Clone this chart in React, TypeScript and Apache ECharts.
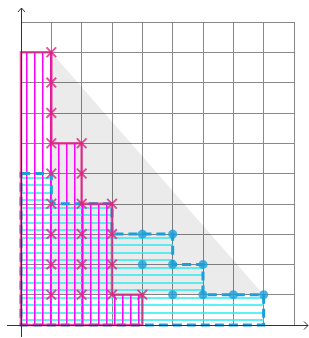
import React, { useEffect, useRef } from "react";
import * as echarts from "echarts";

// Region outlines (x, y)
const triangle: number[][] = [[1, 9], [8, 1], [1, 1]];
const magentaFront: number[][] = [[0, 9], [1, 9], [1, 6], [2, 6], [2, 4], [3, 4], [3, 1], [4, 1], [4, 0], [0, 0]];
const blueFront: number[][] = [[0, 5], [1, 5], [1, 4], [3, 4], [3, 3], [5, 3], [5, 2], [6, 2], [6, 1], [8, 1], [8, 0], [0, 0]];
// Points
const magentaPoints: number[][] = [
  [1, 9], [1, 8], [1, 7], [1, 6], [2, 6], [1, 5], [2, 5], [1, 4], [2, 4], [3, 4],
  [1, 3], [2, 3], [3, 3], [1, 2], [2, 2], [3, 2], [1, 1], [2, 1], [3, 1], [4, 1],
];
const bluePoints: number[][] = [[4, 3], [5, 3], [4, 2], [5, 2], [6, 2], [5, 1], [6, 1], [7, 1], [8, 1]];

const X_MAX = 9;
const Y_MAX = 10;

function makePattern(kind: "v" | "h") {
  const c = document.createElement("canvas");
  const ctx = c.getContext("2d")!;
  if (kind === "v") {
    c.width = 8; c.height = 8;
    ctx.fillStyle = "#ff00ff";
    ctx.fillRect(2, 0, 1.5, 8);
  } else {
    c.width = 4; c.height = 15;
    ctx.fillStyle = "rgba(40,235,240,0.75)";
    ctx.fillRect(0, 4, 4, 2);
    ctx.fillRect(0, 12, 4, 2);
  }
  return { image: c, repeat: "repeat" as const };
}

function polySeries(verts: number[][], style: any, z: number, closed = true) {
  return {
    type: "custom",
    z,
    silent: true,
    data: verts,
    encode: { x: 0, y: 1 },
    renderItem: (params: any, api: any) => {
      if (params.dataIndex !== 0) return null;
      const pts = verts.map((v) => api.coord(v));
      return { type: closed ? "polygon" : "polyline", shape: { points: pts }, style };
    },
  };
}

export default function App() {
  const ref = useRef<HTMLDivElement>(null);
  useEffect(() => {
    if (!ref.current) return;
    const chart = echarts.init(ref.current, undefined, { renderer: "svg" });
    const magPat = makePattern("v");
    const bluePat = makePattern("h");
    const crossPath =
      "path://M0,1.2 L1.2,0 L10,8.8 L8.8,10 Z M8.8,0 L10,1.2 L1.2,10 L0,8.8 Z";
    const left = 21, right = 15, top = 22, bottom = 13;
    const W = 309, H = 338;
    const ox = left, oy = H - bottom;
    chart.setOption({
      animation: false,
      grid: { left, right, top, bottom },
      xAxis: {
        type: "value", min: 0, max: X_MAX, interval: 1,
        axisLine: { show: false }, axisTick: { show: false }, axisLabel: { show: false },
        splitLine: { show: true, lineStyle: { color: "#888", width: 1 } },
      },
      yAxis: {
        type: "value", min: 0, max: Y_MAX, interval: 1,
        axisLine: { show: false }, axisTick: { show: false }, axisLabel: { show: false },
        splitLine: { show: true, lineStyle: { color: "#888", width: 1 } },
      },
      series: [
        polySeries(triangle, { fill: "rgba(0,0,0,0.08)", stroke: "none" }, 1),
        polySeries(blueFront, { fill: bluePat, stroke: "none" }, 2),
        polySeries(magentaFront, { fill: magPat, stroke: "none" }, 3),
        polySeries(blueFront, { fill: "none", stroke: "#1a9fdb", lineWidth: 3, lineDash: [9, 5] }, 4),
        polySeries(magentaFront, { fill: "none", stroke: "rgba(220,30,130,0.75)", lineWidth: 2.5 }, 5),
        {
          type: "scatter", z: 6, silent: true, data: bluePoints,
          symbol: "circle", symbolSize: 9, itemStyle: { color: "#1a9fdb" },
        },
        {
          type: "scatter", z: 7, silent: true, data: magentaPoints,
          symbol: crossPath, symbolSize: 11, itemStyle: { color: "#e0207f" },
        },
      ],
      graphic: [
        { type: "line", z: 100, shape: { x1: 7, y1: oy + 0.5, x2: W - 1, y2: oy + 0.5 }, style: { stroke: "#333", lineWidth: 1 } },
        { type: "line", z: 100, shape: { x1: ox + 0.5, y1: H - 1, x2: ox + 0.5, y2: 8 }, style: { stroke: "#333", lineWidth: 1 } },
        { type: "polyline", z: 100, shape: { points: [[ox - 3, 12], [ox + 0.5, 8], [ox + 4, 12]] }, style: { stroke: "#333", lineWidth: 1, fill: "none" } },
        { type: "polyline", z: 100, shape: { points: [[W - 5, oy - 3.5], [W - 1, oy + 0.5], [W - 5, oy + 4.5]] }, style: { stroke: "#333", lineWidth: 1, fill: "none" } },
      ],
    });
    return () => chart.dispose();
  }, []);
  return <div ref={ref} style={{ position: "absolute", left: 0, top: 0, width: 309, height: 338 }} />;
}
